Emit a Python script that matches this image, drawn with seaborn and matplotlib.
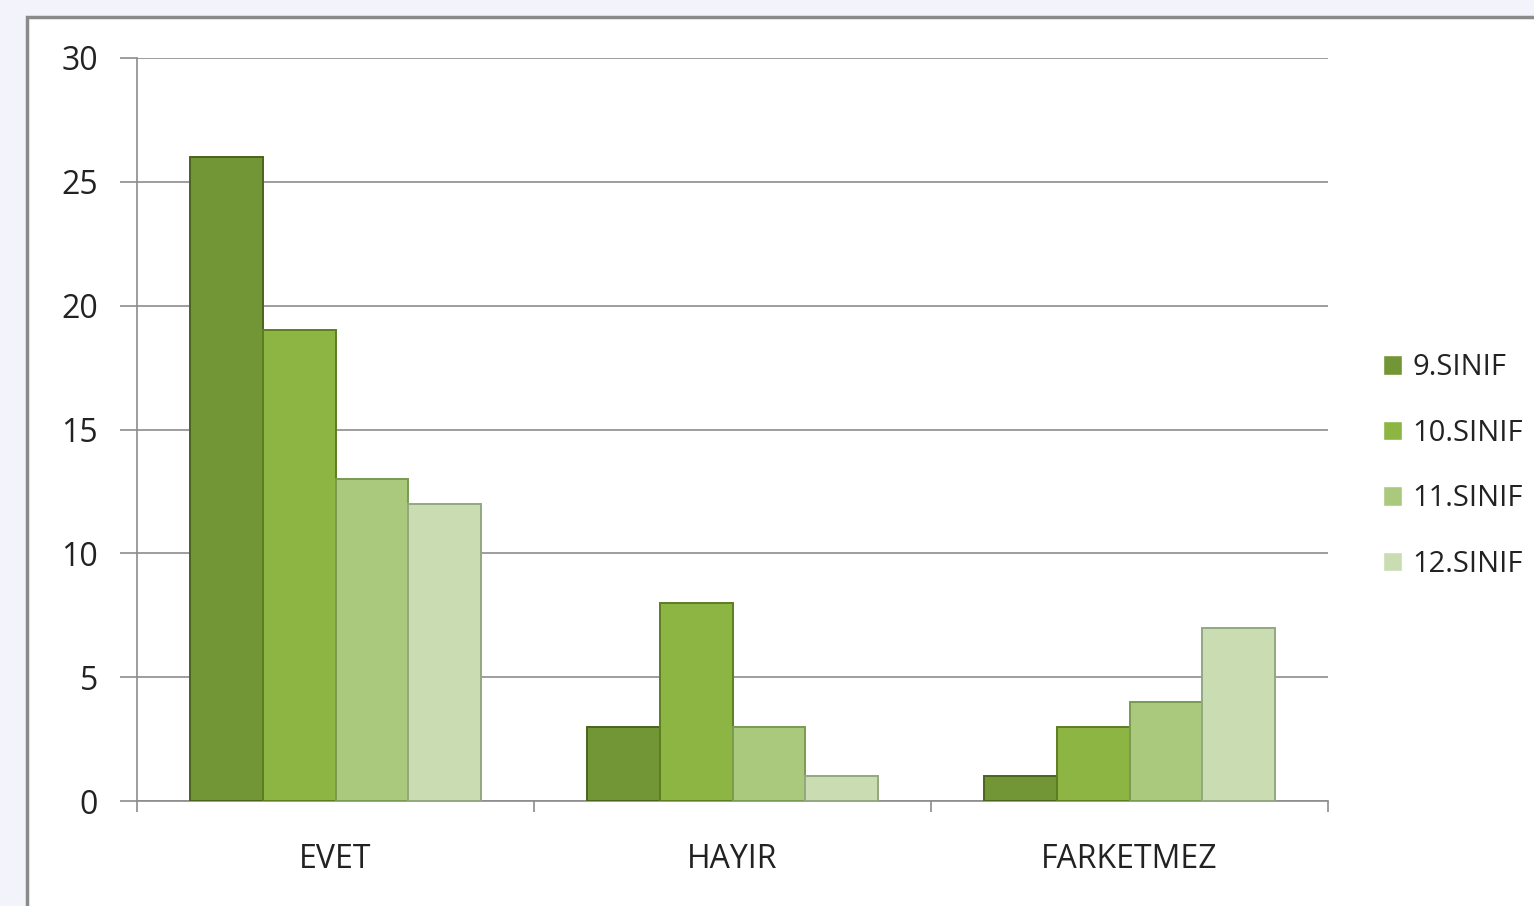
import pandas as pd
import matplotlib.pyplot as plt
import seaborn as sns
from matplotlib.patches import Rectangle

# Data
categories = ['EVET', 'HAYIR', 'FARKETMEZ']
groups = ['9.SINIF', '10.SINIF', '11.SINIF', '12.SINIF']
values_9 = [26, 3, 1]
values_10 = [19, 8, 3]
values_11 = [13, 3, 4]
values_12 = [12, 1, 7]

rows = []
for g, vals in zip(groups, [values_9, values_10, values_11, values_12]):
    for c, v in zip(categories, vals):
        rows.append({'Kategori': c, 'Sinif': g, 'Deger': v})
df = pd.DataFrame(rows)

sns.set_style('white')
plt.rcParams['font.family'] = ['Open Sans', 'DejaVu Sans']

palette = ['#729636', '#8db543', '#aac97d', '#cadcb2']
edges = ['#4a641c', '#5d7d22', '#7a9a50', '#92a880']

W, H = 1534, 906
fig = plt.figure(figsize=(W / 100, H / 100), dpi=100)
fig.set_facecolor('#f3f3fb')

# white chart frame with gray border
fig.patches.append(Rectangle((27 / W, -0.05), 1.2, 1 - 17 / H + 0.05,
                             transform=fig.transFigure, facecolor='white',
                             edgecolor='#8a8a8a', linewidth=2.5, zorder=-5))

ax = fig.add_axes([137 / W, 1 - 801 / H, (1328 - 137) / W, (801 - 58) / H])
ax.set_zorder(2)
ax.set_facecolor('none')

sns.barplot(data=df, x='Kategori', y='Deger', hue='Sinif', order=categories,
            hue_order=groups, palette=palette, width=0.735, ax=ax,
            saturation=1, zorder=3)

for i, cont in enumerate(ax.containers):
    for bar in cont:
        bar.set_edgecolor(edges[i])
        bar.set_linewidth(1.4)

ax.set_ylim(0, 30)
ax.set_xlim(-0.5, 2.5)
ax.set_yticks(range(0, 31, 5))
ax.yaxis.grid(True, color='#8c8c8c', linewidth=1.2, zorder=0)
ax.set_axisbelow(True)

for s in ['top', 'right']:
    ax.spines[s].set_visible(False)
for s in ['left', 'bottom']:
    ax.spines[s].set_color('#8c8c8c')
    ax.spines[s].set_linewidth(1.2)

ax.tick_params(axis='y', length=12, width=1.2, color='#8c8c8c', pad=16,
               labelsize=23, labelcolor='#222222', left=True)
ax.tick_params(axis='x', which='major', length=0, pad=30,
               labelsize=23, labelcolor='#222222')
ax.set_xticks([-0.5, 0.5, 1.5, 2.5], minor=True)
ax.tick_params(axis='x', which='minor', length=8, width=1.2, color='#8c8c8c',
               bottom=True)
ax.set_xlabel('')
ax.set_ylabel('')

leg = ax.legend(loc='center left', bbox_to_anchor=(1383 / W, 1 - 466 / H),
                bbox_transform=fig.transFigure, frameon=False, fontsize=21,
                handlelength=0.65, handleheight=0.65, handletextpad=0.35,
                labelspacing=1.25, borderaxespad=0, borderpad=0)
for t in leg.get_texts():
    t.set_color('#222222')

plt.savefig('out.png', dpi=100, facecolor=fig.get_facecolor())
